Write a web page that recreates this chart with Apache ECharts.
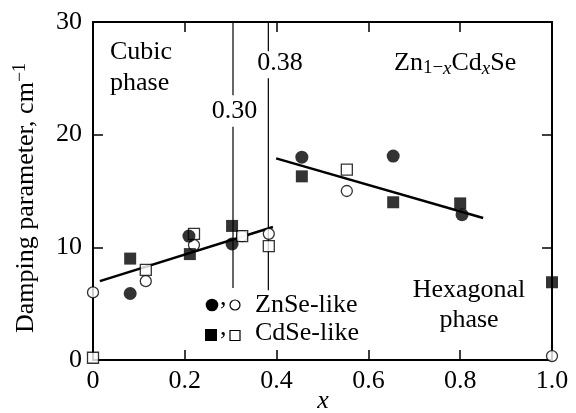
<!DOCTYPE html>
<html>
<head>
<meta charset="utf-8">
<script src="https://cdn.jsdelivr.net/npm/echarts@6/dist/echarts.min.js"></script>
<style>html,body{margin:0;padding:0;background:#fff;}#c{width:576px;height:413px;}</style>
</head>
<body>
<div id="c"></div>
<script>
// ---- data ----
const xTicks = [0, 0.2, 0.4, 0.6, 0.8, 1.0];
const yTicks = [0, 10, 20, 30];
const znSeFilled = [[0.081,5.9],[0.209,11.0],[0.303,10.3],[0.455,18.0],[0.654,18.1],[0.804,12.9]];
const znSeOpen   = [[0,6.0],[0.115,7.0],[0.22,10.2],[0.325,11.0],[0.383,11.2],[0.553,15.0],[1.0,0.35]];
const cdSeFilled = [[0.081,9.0],[0.211,9.4],[0.303,11.9],[0.455,16.3],[0.654,14.0],[0.80,13.9],[1.0,6.9]];
const cdSeOpen   = [[0,0.2],[0.115,8.0],[0.22,11.2],[0.325,11.0],[0.383,10.1],[0.553,16.9]];
const fitCubic = [[0.015,7.0],[0.392,11.8]];
const fitHex   = [[0.399,17.9],[0.85,12.6]];
const boundary030 = [[[0.305,30],[0.305,23.5]],[[0.305,20.7],[0.305,6.4]]];
const boundary038 = [[[0.382,30],[0.382,27.4]],[[0.382,25.0],[0.382,6.2]]];

const F = "'Liberation Serif', 'Times New Roman', serif";
const chart = echarts.init(document.getElementById('c'), null, {renderer:'canvas'});
const axisLine = () => ({show:true, onZero:false, lineStyle:{color:'#000', width:2}});
const tick = () => ({show:true, inside:true, length:10, lineStyle:{color:'#000', width:1.5}});

const series = [];
function seg(d){ series.push({type:'line', xAxisIndex:1, yAxisIndex:1, data:d, symbol:'none', silent:true, lineStyle:{color:'#000', width:1.2}, z:1}); }
boundary030.forEach(seg); boundary038.forEach(seg);
[fitCubic, fitHex].forEach(d => series.push({type:'line', data:d, symbol:'none', lineStyle:{color:'#000', width:2.5}, z:2}));
series.push({type:'scatter', data:znSeOpen, symbol:'circle', symbolSize:11, itemStyle:{color:'#fff', borderColor:'#000', borderWidth:1.3}, z:3});
series.push({type:'scatter', data:cdSeOpen, symbol:'rect', symbolSize:11, itemStyle:{color:'#fff', borderColor:'#000', borderWidth:1.3}, z:3});
series.push({type:'scatter', data:znSeFilled, symbol:'circle', symbolSize:13, itemStyle:{color:'#000'}, z:4});
series.push({type:'scatter', data:cdSeFilled, symbol:'rect', symbolSize:12, itemStyle:{color:'#000'}, z:4});

const txt = (x,y,t,extra) => Object.assign({type:'text', x:x, y:y, z:10, style:Object.assign({text:t, font:'26px ' + F, fill:'#000'}, extra||{})});

chart.setOption({
  animation:false,
  backgroundColor:'#fff',
  grid:{left:93, right:24, top:22, bottom:53, containLabel:false, outerBoundsMode:'none'},
  xAxis:[
    {type:'value', min:0, max:1, interval:0.2, position:'bottom',
     axisLine:axisLine(), axisTick:tick(), splitLine:{show:false},
     axisLabel:{margin:8, color:'#000', fontFamily:F, fontSize:26, formatter:v => v===0?'0':(v===1?'1.0':String(+v.toFixed(1)))}},
    {type:'value', min:0, max:1, interval:0.2, position:'top',
     axisLine:axisLine(), axisTick:tick(), axisLabel:{show:false}, splitLine:{show:false}}
  ],
  yAxis:[
    {type:'value', min:0, max:30, interval:10, position:'left',
     axisLine:axisLine(), axisTick:tick(), splitLine:{show:false},
     axisLabel:{margin:11, color:'#000', fontFamily:F, fontSize:26},
     name:'{n|Damping parameter, cm}{s|\u22121}', nameLocation:'middle', nameGap:52, nameRotate:90,
     nameTextStyle:{color:'#000', padding:[0,14,0,0], rich:{n:{fontFamily:F, fontSize:26, lineHeight:30}, s:{fontFamily:F, fontSize:18, lineHeight:18, verticalAlign:'top'}}}},
    {type:'value', min:0, max:30, interval:10, position:'right',
     axisLine:axisLine(), axisTick:tick(), axisLabel:{show:false}, splitLine:{show:false}}
  ],
  series:series,
  graphic:[
    txt(323, 401, 'x', {textAlign:'center', textVerticalAlign:'middle', font:'italic 26px ' + F}),
    txt(110, 67.5, 'Cubic\nphase', {textAlign:'left', textVerticalAlign:'middle', lineHeight:31}),
    txt(469, 305, 'Hexagonal\nphase', {textAlign:'center', textVerticalAlign:'middle', lineHeight:30}),
    txt(280, 63, '0.38', {textAlign:'center', textVerticalAlign:'middle'}),
    txt(234.5, 111, '0.30', {textAlign:'center', textVerticalAlign:'middle'}),
    {type:'text', x:394, y:63, z:10, style:{
      text:'{n|Zn}{s|1\u2212}{si|x}{n|Cd}{si|x}{n|Se}', textAlign:'left', textVerticalAlign:'middle',
      rich:{
        n:{fontFamily:F, fontSize:26, lineHeight:30, fill:'#000'},
        s:{fontFamily:F, fontSize:19, lineHeight:17, verticalAlign:'bottom', fill:'#000'},
        si:{fontFamily:F, fontSize:19, fontStyle:'italic', lineHeight:17, verticalAlign:'bottom', fill:'#000'}
      }}},
    // legend
    {type:'circle', shape:{cx:212, cy:305, r:6.3}, style:{fill:'#000'}, z:10},
    txt(220, 311, ',', {textAlign:'left', textVerticalAlign:'bottom'}),
    {type:'circle', shape:{cx:235, cy:305, r:5}, style:{fill:'#fff', stroke:'#000', lineWidth:1.2}, z:10},
    txt(255, 305, 'ZnSe-like', {textAlign:'left', textVerticalAlign:'middle'}),
    {type:'rect', shape:{x:205, y:329, width:12, height:12}, style:{fill:'#000'}, z:10},
    txt(220, 341, ',', {textAlign:'left', textVerticalAlign:'bottom'}),
    {type:'rect', shape:{x:230, y:330.5, width:10, height:10}, style:{fill:'#fff', stroke:'#000', lineWidth:1.2}, z:10},
    txt(255, 333, 'CdSe-like', {textAlign:'left', textVerticalAlign:'middle'})
  ]
});
</script>
</body>
</html>
